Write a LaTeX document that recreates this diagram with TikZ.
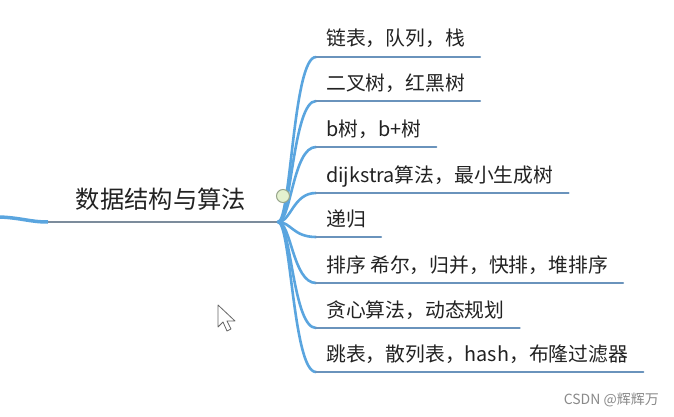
\documentclass[tikz,border=0pt]{standalone}
\usepackage{fontspec}
\setmainfont{Noto Sans CJK SC}
\usetikzlibrary{calc}
\definecolor{branchblue}{HTML}{5AA5DF}
\definecolor{underblue}{HTML}{6A93BC}
\definecolor{rootline}{HTML}{7C8C9C}
\definecolor{knobfill}{HTML}{E4F1CF}
\definecolor{knobdraw}{HTML}{98A68C}
\definecolor{txt}{HTML}{222222}
\definecolor{wmark}{HTML}{8A8A8A}
\tikzset{
  branch/.style={draw=branchblue, line width=2.6pt, line cap=round},
  under/.style={draw=underblue, line width=2.4pt, line cap=round},
  rootunder/.style={draw=rootline, line width=2pt},
  leaf/.style={anchor=base west, inner sep=0pt, text=txt, font=\fontsize{19.8}{21}\selectfont},
  roottopic/.style={anchor=base, inner sep=0pt, text=txt, font=\fontsize{24.3}{26}\selectfont},
}
\begin{document}
\begin{tikzpicture}[x=1pt,y=1pt]
\fill[white] (0,0) rectangle (674,416);
\useasboundingbox (0,0) rectangle (674,416);

% root
\node[roottopic] (root) at (161,208) {数据结构与算法};
\coordinate (L) at (0,199);
\coordinate (R0) at (48,194);
\coordinate (J) at (278,194);
\draw[branchblue, line width=3.5pt] (L) .. controls (22,198) and (30,194) .. (R0);
\draw[rootunder] (R0) -- (J);

% leaves
\foreach \i/\uy/\t in {
  1/359/{链表，队列，栈},
  2/315/{二叉树，红黑树},
  3/269/{b树，b+树},
  4/223/{dijkstra算法，最小生成树},
  5/179/{递归},
  6/133/{排序 希尔，归并，快排，堆排序},
  7/88/{贪心算法，动态规划},
  8/44/{跳表，散列表，hash，布隆过滤器}}{
  \node[leaf] (c\i) at (326,\uy+11) {\t};
  \coordinate (s\i) at (316,\uy);
  \coordinate (e\i) at ($(c\i.base east)+(15,-11)$);
  \draw[branch] (J) .. controls (291,194) and (293,\uy) .. (s\i);
  \draw[under] (s\i) -- (e\i);
}

% knob
\node[circle, draw=knobdraw, fill=knobfill, line width=1pt, minimum size=13pt, inner sep=0pt] (knob) at (283,220) {};

% cursor
\draw[fill=white, draw=black!60, line width=0.8pt, line join=round]
  (218,111) -- (218,89) -- (223,94) -- (227,85) -- (231,87) -- (227,95) -- (235,95) -- cycle;

% watermark
\node[anchor=base east, inner sep=0pt, text=wmark, font=\fontsize{14}{16}\selectfont] (wm) at (659,12) {CSDN @辉辉万};
\end{tikzpicture}
\end{document}
